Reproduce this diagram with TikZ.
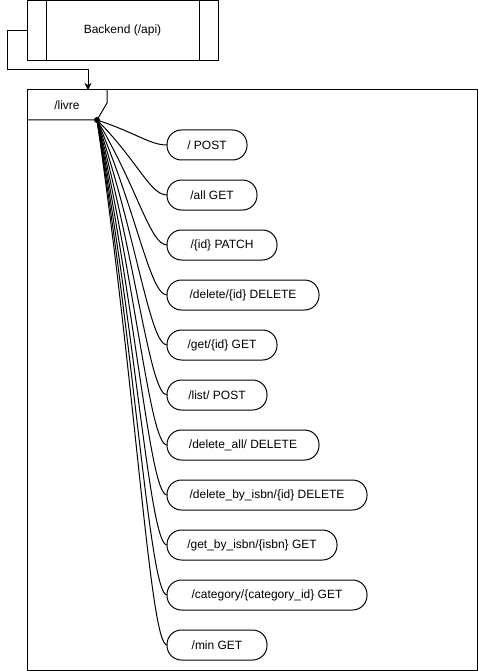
\documentclass[tikz,border=0pt]{standalone}
\usepackage{fontspec}
\setmainfont{Liberation Sans}
\usetikzlibrary{arrows.meta}
\begin{document}
\begin{tikzpicture}[x=1pt,y=-1pt,
  every node/.style={font=\fontsize{12}{14}\selectfont},
  line/.style={line width=1pt, black},
  pill/.style={draw, line width=1pt, rounded corners=14.5pt, minimum height=30pt, inner sep=0pt, outer sep=0pt, anchor=west},
  boxnode/.style={draw, line width=1pt, inner sep=0pt, outer sep=0pt, anchor=north west},
  arr/.style={line width=1pt, -{Stealth[length=7pt,width=7pt,inset=2pt]}}
]
\useasboundingbox (0,0) rectangle (478,671);

% Backend process box
\node[boxnode, minimum width=191pt, minimum height=60pt] (backend) at (27,0.5) {};
\node at (122.5,30.5) (btxt) {Backend (/api)};
\draw[line] ([xshift=19pt]backend.north west) -- ([xshift=19pt]backend.south west);
\draw[line] ([xshift=-19pt]backend.north east) -- ([xshift=-19pt]backend.south east);

% Frame
\node[boxnode, minimum width=450pt, minimum height=580pt] (frame) at (27,90) {};
\coordinate (ftop) at (88,90);
\draw[arr] (backend.west) -- (7,30.5) -- (7,70) -| (ftop);

% Tab
\node[circle, fill=black, inner sep=0pt, minimum size=6pt] (dot) at (97,120) {};
\coordinate (tabl) at (27,120);
\coordinate (tabd) at (107,103);
\coordinate (tabt) at (107,90);
\draw[line] (tabl) -- (dot.center) -- (tabd) -- (tabt);
\node at (67,105) (livre) {/livre};

% Endpoints
\node[pill, minimum width=80pt]  (p1)  at (167,145) {/ POST};
\node[pill, minimum width=90pt]  (p2)  at (167,195) {/all GET};
\node[pill, minimum width=110pt] (p3)  at (167,245) {/\{id\} PATCH};
\node[pill, minimum width=152pt] (p4)  at (167,295) {/delete/\{id\} DELETE};
\node[pill, minimum width=110pt] (p5)  at (167,345) {/get/\{id\} GET};
\node[pill, minimum width=100pt] (p6)  at (167,395) {/list/ POST};
\node[pill, minimum width=152pt] (p7)  at (167,445) {/delete\_all/ DELETE};
\node[pill, minimum width=200pt] (p8)  at (167,495) {/delete\_by\_isbn/\{id\} DELETE};
\node[pill, minimum width=170pt] (p9)  at (167,545) {/get\_by\_isbn/\{isbn\} GET};
\node[pill, minimum width=200pt] (p10) at (167,595) {/category/\{category\_id\} GET};
\node[pill, minimum width=100pt] (p11) at (167,645) {/min GET};

% Curved connectors
\foreach \n/\yy in {p1/145,p2/195,p3/245,p4/295,p5/345,p6/395,p7/445,p8/495,p9/545,p10/595,p11/645}{
  \draw[line] (dot.center) .. controls +(40,{0.53*(\yy-120)}) and +(-17,0) .. (\n.west);
}
\end{tikzpicture}
\end{document}
